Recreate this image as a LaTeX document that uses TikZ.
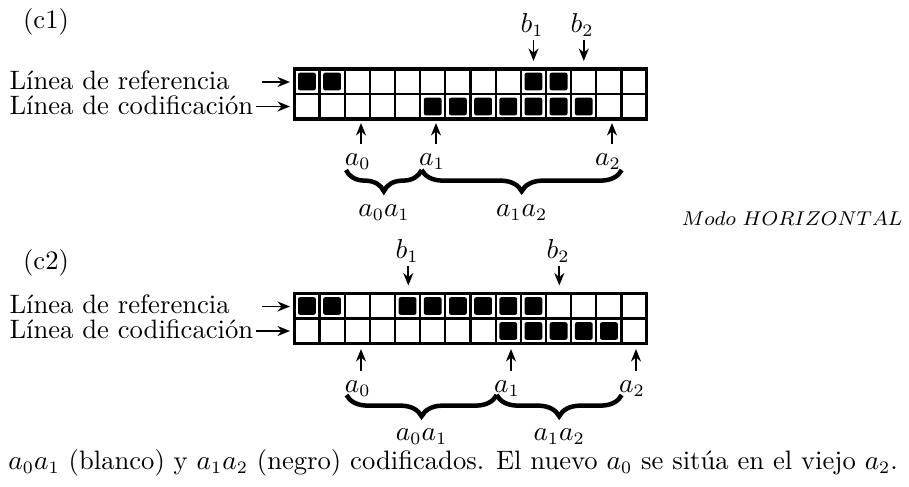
\documentclass[tikz,border=0pt]{standalone}
\usepackage{fontspec}
\usetikzlibrary{arrows.meta,decorations.pathreplacing}
\begin{document}
\begin{tikzpicture}[x=0.4pt,y=-0.4pt,
  gridline/.style={line width=0.9pt},
  gridframe/.style={line width=1.3pt},
  pixel/.style={fill=black,rounded corners=0.8pt},
  ptr/.style={-{Stealth[length=5pt,width=4pt]},line width=0.7pt},
  txt/.style={inner sep=0pt,font=\fontsize{10.65pt}{12.8pt}\selectfont},
  brc/.style={decorate,decoration={brace,mirror,amplitude=8.5pt},line width=1.8pt},
]
\useasboundingbox (0,0) rectangle (909,487);
\def\gx{294.3}\def\gw{25.17}

% two rows of 14 pixels: #1 top edge, #2 black cells of the reference row, #3 black cells of the coding row
\newcommand\pixelrows[3]{%
  \foreach \c in {#2}{\fill[pixel] ({\gx+\gw*\c+3.7},{#1+3.7}) rectangle ++(17.8,17.6);}
  \foreach \c in {#3}{\fill[pixel] ({\gx+\gw*\c+3.7},{#1+28.7}) rectangle ++(17.8,17.6);}
  \foreach \i in {1,...,13}{\draw[gridline] ({\gx+\gw*\i},{#1}) -- ++(0,50);}
  \draw[gridline] ({\gx},{#1+25}) -- ++({14*\gw},0);
  \draw[gridframe] ({\gx},{#1}) rectangle ++({14*\gw},50);
}

% ---------------- (c1) ----------------
\node[txt,anchor=base] (c1) at (46,28) {(c1)};
\pixelrows{69}{0,1,9,10}{5,6,7,8,9,10,11}

\node[txt,anchor=base west] (ref1) at (9,89) {Línea de referencia};
\node[txt,anchor=base west] (cod1) at (9,114) {Línea de codificación};
\coordinate (ref1s) at (262,82);  \coordinate (ref1e) at (290,82);
\coordinate (cod1s) at (256,106.5); \coordinate (cod1e) at (290,106.5);
\draw[ptr] (ref1s) -- (ref1e);
\draw[ptr] (cod1s) -- (cod1e);

\node[txt,anchor=base] (b11) at (532,32) {$b_1$};
\node[txt,anchor=base] (b12) at (582,32) {$b_2$};
\coordinate (b11t) at (533.5,61);
\coordinate (b12t) at (583.8,61);
\draw[ptr,shorten <=1.5pt] (b11.south -| b11t) -- (b11t);
\draw[ptr,shorten <=1.5pt] (b12.south -| b12t) -- (b12t);

\node[txt,anchor=base] (a10) at (357.7,165) {$a_0$};
\node[txt,anchor=base] (a11) at (432,165) {$a_1$};
\node[txt,anchor=base] (a12) at (608,165) {$a_2$};
\coordinate (a10t) at (361,123);
\coordinate (a11t) at (436,123);
\coordinate (a12t) at (612,123);
\draw[ptr,shorten <=3.5pt] (a10.north -| a10t) -- (a10t);
\draw[ptr,shorten <=3.5pt] (a11.north -| a11t) -- (a11t);
\draw[ptr,shorten <=3.5pt] (a12.north -| a12t) -- (a12t);

\coordinate (br10) at (346,170);
\coordinate (br11) at (421.7,170);
\coordinate (br12) at (621.7,170);
\draw[brc] (br10) -- (br11);
\draw[brc] (br11) -- (br12);
\node[txt,anchor=base] (s101) at (384,216) {$a_0a_1$};
\node[txt,anchor=base] (s112) at (521.7,216) {$a_1a_2$};

\node[txt,anchor=base east,font=\fontsize{7.7pt}{9pt}\selectfont] (modo) at (903,225) {$Modo\ HORIZONTAL$};

% ---------------- (c2) ----------------
\node[txt,anchor=base] (c2) at (46,269) {(c2)};
\pixelrows{293.5}{0,1,4,5,6,7,8,9}{8,9,10,11,12}

\node[txt,anchor=base west] (ref2) at (9,313.5) {Línea de referencia};
\node[txt,anchor=base west] (cod2) at (9,338.5) {Línea de codificación};
\coordinate (ref2s) at (262,306.5); \coordinate (ref2e) at (290,306.5);
\coordinate (cod2s) at (256,331);   \coordinate (cod2e) at (290,331);
\draw[ptr] (ref2s) -- (ref2e);
\draw[ptr] (cod2s) -- (cod2e);

\node[txt,anchor=base] (b21) at (407,258) {$b_1$};
\node[txt,anchor=base] (b22) at (558,258) {$b_2$};
\coordinate (b21t) at (408.3,285.5);
\coordinate (b22t) at (559.3,285.5);
\draw[ptr,shorten <=1.5pt] (b21.south -| b21t) -- (b21t);
\draw[ptr,shorten <=1.5pt] (b22.south -| b22t) -- (b22t);

\node[txt,anchor=base] (a20) at (357.7,392) {$a_0$};
\node[txt,anchor=base] (a21) at (507,392) {$a_1$};
\node[txt,anchor=base] (a22) at (632,392) {$a_2$};
\coordinate (a20t) at (361,349);
\coordinate (a21t) at (511,349);
\coordinate (a22t) at (636,349);
\draw[ptr,shorten <=3.5pt] (a20.north -| a20t) -- (a20t);
\draw[ptr,shorten <=3.5pt] (a21.north -| a21t) -- (a21t);
\draw[ptr,shorten <=3.5pt] (a22.north -| a22t) -- (a22t);

\coordinate (br20) at (346.5,395);
\coordinate (br21) at (496.7,395);
\coordinate (br22) at (621.7,395);
\draw[brc] (br20) -- (br21);
\draw[brc] (br21) -- (br22);
\node[txt,anchor=base] (s201) at (421.6,440) {$a_0a_1$};
\node[txt,anchor=base] (s212) at (559.2,440) {$a_1a_2$};

% ---------------- caption ----------------
\node[txt,anchor=base west] (cap) at (8,469)
  {$a_0a_1$ (blanco) y $a_1a_2$ (negro) codificados. El nuevo $a_0$ se sitúa en el viejo $a_2$.};
\end{tikzpicture}
\end{document}
